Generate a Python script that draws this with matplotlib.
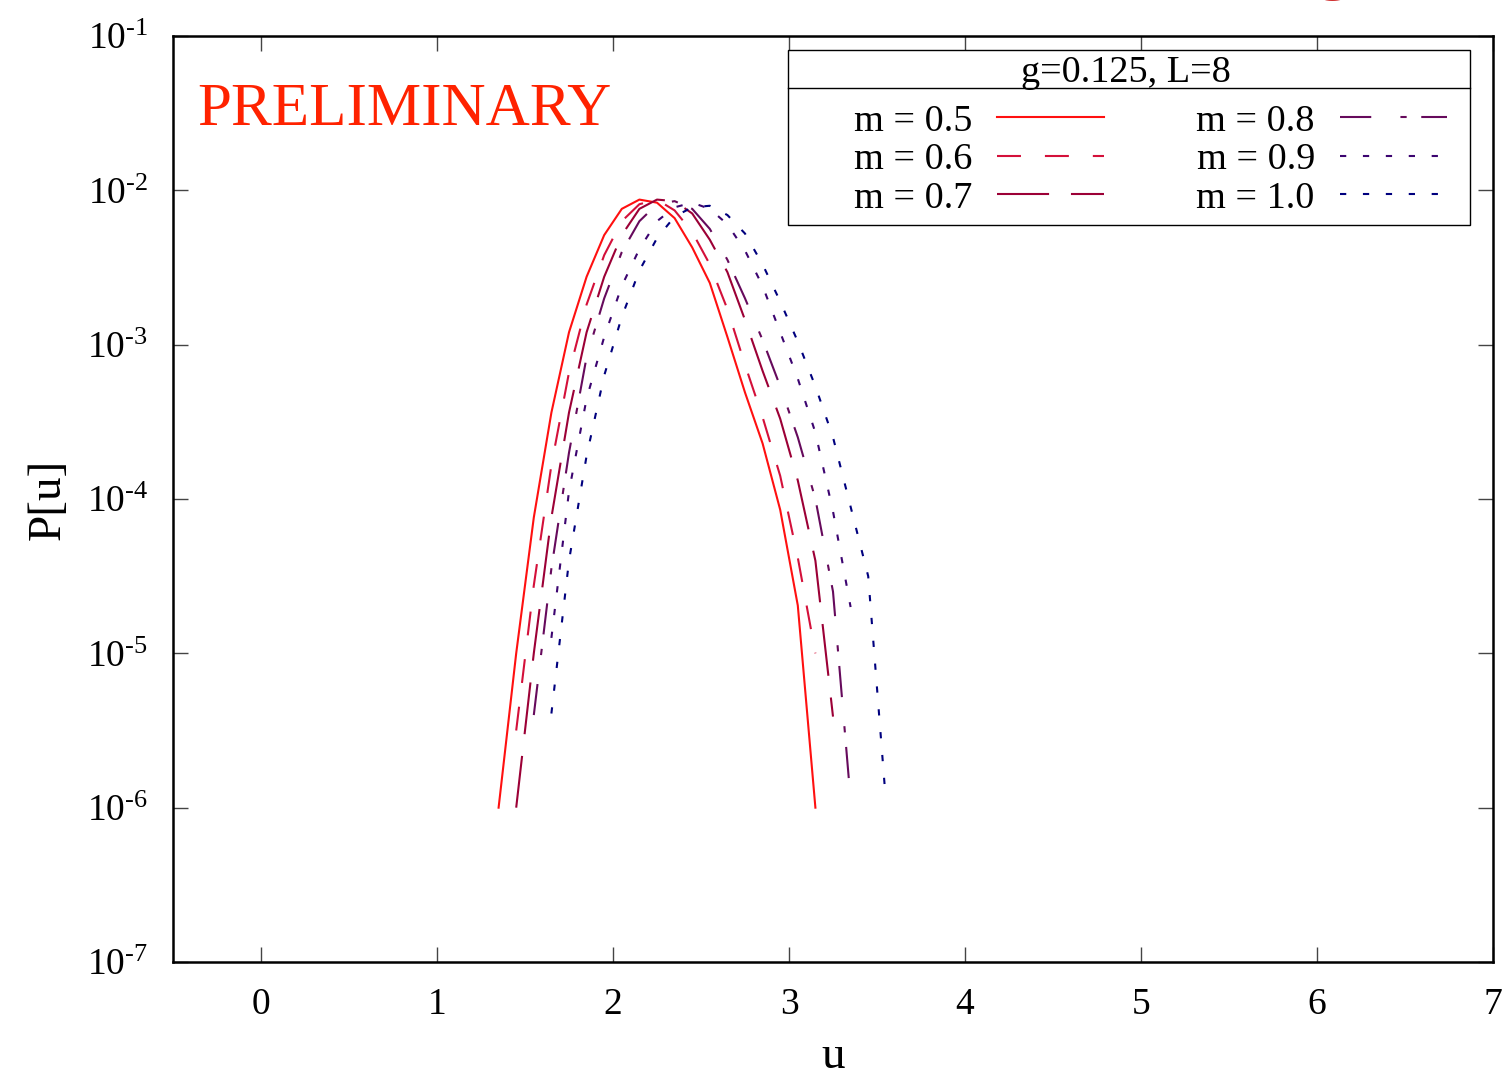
import numpy as np
import matplotlib
matplotlib.use('Agg')
import matplotlib.pyplot as plt
from matplotlib.lines import Line2D
from matplotlib.patches import Rectangle
from matplotlib.ticker import FixedLocator, FuncFormatter, NullLocator

plt.rcParams['font.family'] = ['Liberation Serif', 'DejaVu Serif']
plt.rcParams['mathtext.fontset'] = 'custom'
plt.rcParams['mathtext.rm'] = 'Liberation Serif'

# histogram bins are 0.1 wide, centred on x.x5
labels = ['m = 0.5', 'm = 0.6', 'm = 0.7', 'm = 0.8', 'm = 0.9', 'm = 1.0']
u_start = [1.35, 1.45, 1.45, 1.55, 1.65, 1.65]

# log10 P[u]
logp_05 = [-6.0, -5.0, -4.12, -3.44, -2.92, -2.56, -2.29, -2.12, -2.06, -2.08,
           -2.18, -2.37, -2.60, -2.95, -3.31, -3.64, -4.07, -4.69, -6.0]
logp_06 = [-5.5, -4.56, -3.78, -3.18, -2.74, -2.42, -2.20, -2.09, -2.06, -2.13,
           -2.27, -2.48, -2.77, -3.13, -3.47, -3.85, -4.38, -5.0]
logp_07 = [-6.0, -5.0, -4.12, -3.44, -2.92, -2.56, -2.29, -2.12, -2.06, -2.07,
           -2.15, -2.32, -2.53, -2.84, -3.17, -3.48, -3.88, -4.4, -5.41]
logp_08 = [-5.4, -4.45, -3.7, -3.08, -2.7, -2.4, -2.2, -2.09, -2.07, -2.12,
           -2.25, -2.45, -2.7, -2.97, -3.27, -3.6, -4.0, -4.6, -5.95]
logp_09 = [-4.9, -3.95, -3.35, -2.95, -2.62, -2.38, -2.2, -2.11, -2.08, -2.12,
           -2.22, -2.39, -2.62, -2.92, -3.22, -3.57, -4.08, -4.7]
logp_10 = [-5.39, -4.4, -3.72, -3.2, -2.82, -2.52, -2.31, -2.17, -2.11, -2.10,
           -2.16, -2.28, -2.48, -2.72, -2.98, -3.27, -3.6, -4.05, -4.5, -5.95]
all_logp = [logp_05, logp_06, logp_07, logp_08, logp_09, logp_10]

colors = ['#ff1010', '#d4103a', '#9c0036', '#660a5c', '#3c0470', '#00007e']
styles = ['-', (0, (11.5, 11.5)), (0, (25, 10.5)), (0, (15, 14, 3, 7)),
          (0, (3, 8)), (0, (3, 8))]

fig = plt.figure(figsize=(15.06, 10.8), dpi=100)
ax = fig.add_axes([173/1506, 1 - 962/1080, 1320/1506, 926/1080])

for u0, lp, lab, c, ls in zip(u_start, all_logp, labels, colors, styles):
    u = u0 + 0.1 * np.arange(len(lp))
    # leading spaces give the wide left margin of the key box
    ax.plot(u, 10.0 ** np.array(lp), color=c, ls=ls, lw=1.5,
            dash_capstyle='butt', label='     ' + lab)

ax.set_yscale('log')
ax.set_xlim(-0.5, 7)
ax.set_ylim(1e-7, 1e-1)
ax.xaxis.set_major_locator(FixedLocator(range(0, 8)))
ax.yaxis.set_major_locator(FixedLocator([10.0 ** k for k in range(-7, 0)]))
ax.yaxis.set_minor_locator(NullLocator())
ax.yaxis.set_major_formatter(FuncFormatter(
    lambda v, p: r'$\mathregular{10^{\text{-}%d}}$' % round(-np.log10(v))))
ax.tick_params(direction='in', top=True, right=True, length=11, width=1,
               labelsize=27, color='#444444')
ax.tick_params(axis='x', pad=18)
ax.tick_params(axis='y', pad=18)
for s in ax.spines.values():
    s.set_linewidth(1.8)

ax.set_xlabel('u', fontsize=34, labelpad=10)
ax.set_ylabel('P[u]', fontsize=34, labelpad=12)

ax.text(0.018, 0.92, 'PRELIMINARY', transform=ax.transAxes, color='#ff2200',
        fontsize=44, va='center', ha='left')

leg = ax.legend(ncol=2, title='g=0.125, L=8', title_fontsize=27.5, fontsize=27.5,
                loc='upper right', bbox_to_anchor=(0.9712, 0.988),
                borderaxespad=0, markerfirst=False, frameon=False,
                handlelength=2.8, handletextpad=0.65, columnspacing=1.15,
                labelspacing=0.1, borderpad=0.22)
leg._legend_box.sep = 10  # more room between title row and entries

# key box and the separator under its title, sized from the drawn legend
fig.canvas.draw()
ext = leg.get_window_extent()
tb = leg.get_title().get_window_extent()
inv = ax.transAxes.inverted()
(bx0, by0), (bx1, by1) = inv.transform([(ext.x0 - 10, ext.y0 - 1),
                                        (ext.x1 + 15, ext.y1 - 3)])
ax.add_patch(Rectangle((bx0, by0), bx1 - bx0, by1 - by0, transform=ax.transAxes,
                       facecolor='white', edgecolor='black', lw=1.0, zorder=4.5))
ysep = inv.transform([(0, tb.y0 + 2)])[0][1]
ax.add_line(Line2D([bx0, bx1], [ysep, ysep], transform=ax.transAxes,
                   color='black', lw=1.0, zorder=6))

# cut-off text at the very top of the page
fig.text(1333/1506, 1.013, 'g', color='#d03030', fontsize=50, ha='center',
         va='baseline')

fig.savefig('out.png', dpi=100)
